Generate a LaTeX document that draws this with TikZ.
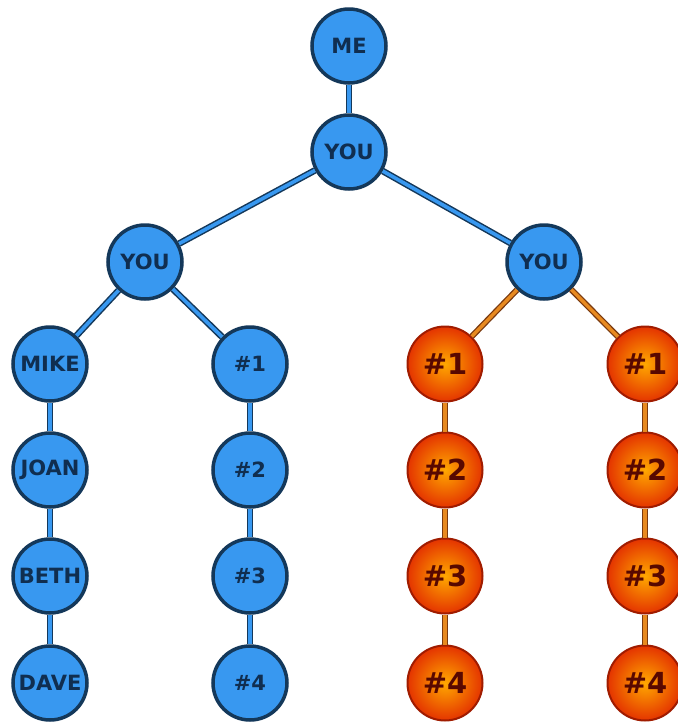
\documentclass[tikz,border=0pt]{standalone}
\usepackage{fontspec}
\setmainfont{DejaVu Sans}
\definecolor{bluefill}{HTML}{3898F0}
\definecolor{blueedge}{HTML}{14385A}
\definecolor{bluetext}{HTML}{102E50}
\definecolor{orin}{HTML}{FFA800}
\definecolor{orout}{HTML}{E43400}
\definecolor{oredge}{HTML}{A01C00}
\definecolor{ortext}{HTML}{580800}
\definecolor{orline}{HTML}{E88A20}
\definecolor{orlineedge}{HTML}{7A3A10}
\tikzset{
  bluenode/.style={circle, minimum size=74pt, inner sep=0pt, fill=bluefill,
    draw=blueedge, line width=3.5pt, text=bluetext,
    font=\fontsize{21}{21}\selectfont\bfseries},
  orangenode/.style={circle, minimum size=75pt, inner sep=0pt,
    inner color=orin, outer color=orout, draw=oredge, line width=2pt,
    text=ortext, font=\fontsize{29}{29}\selectfont\bfseries},
  bluelink/.style={draw=blueedge, line width=1.5pt, double=bluefill, double distance=3.6pt},
  orangelink/.style={draw=orlineedge, line width=1.3pt, double=orline, double distance=3.4pt},
}
\begin{document}
\begin{tikzpicture}[x=1pt,y=-1pt]
\useasboundingbox (0,0) rectangle (678,724);
\clip (0,0) rectangle (678,724);
% tree nodes
\node[bluenode] (me) at (349,46) {ME};
\node[bluenode] (you) at (349,152) {YOU};
\node[bluenode] (youL) at (145,262) {YOU};
\node[bluenode] (youR) at (544,262) {YOU};
\node[bluenode] (mike) at (50,364) {MIKE};
\node[bluenode] (joan) at (50,470) {JOAN};
\node[bluenode] (beth) at (50,576) {BETH};
\node[bluenode] (dave) at (50,683) {DAVE};
\node[bluenode] (b1) at (250,364) {\#1};
\node[bluenode] (b2) at (250,470) {\#2};
\node[bluenode] (b3) at (250,576) {\#3};
\node[bluenode] (b4) at (250,683) {\#4};
\node[orangenode] (p1) at (445,364) {\#1};
\node[orangenode] (p2) at (445,470) {\#2};
\node[orangenode] (p3) at (445,576) {\#3};
\node[orangenode] (p4) at (445,683) {\#4};
\node[orangenode] (q1) at (645,364) {\#1};
\node[orangenode] (q2) at (645,470) {\#2};
\node[orangenode] (q3) at (645,576) {\#3};
\node[orangenode] (q4) at (645,683) {\#4};
% connectors
\draw[bluelink] (me) -- (you);
\draw[bluelink] (you) -- (youL);
\draw[bluelink] (you) -- (youR);
\draw[bluelink] (youL) -- (mike);
\draw[bluelink] (youL) -- (b1);
\draw[bluelink] (mike) -- (joan);
\draw[bluelink] (joan) -- (beth);
\draw[bluelink] (beth) -- (dave);
\draw[bluelink] (b1) -- (b2);
\draw[bluelink] (b2) -- (b3);
\draw[bluelink] (b3) -- (b4);
\draw[orangelink] (youR) -- (p1);
\draw[orangelink] (youR) -- (q1);
\draw[orangelink] (p1) -- (p2);
\draw[orangelink] (p2) -- (p3);
\draw[orangelink] (p3) -- (p4);
\draw[orangelink] (q1) -- (q2);
\draw[orangelink] (q2) -- (q3);
\draw[orangelink] (q3) -- (q4);
\end{tikzpicture}
\end{document}
